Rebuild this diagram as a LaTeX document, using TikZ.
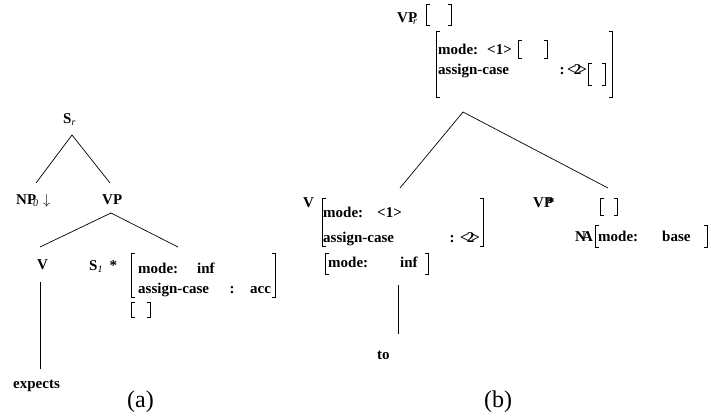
\documentclass[tikz,border=0pt]{standalone}
\usepackage{fontspec}
\setmainfont{Liberation Serif}
\newcommand{\lsub}[1]{\raisebox{-2pt}{\fontsize{10}{10}\selectfont\mdseries\itshape #1}}
% left x, right x, top y, bottom y
\newcommand{\avmbrk}[4]{%
  \draw[brack] (#1+3.5,#3) -- (#1,#3) -- (#1,#4) -- (#1+3.5,#4);
  \draw[brack] (#2-3.5,#3) -- (#2,#3) -- (#2,#4) -- (#2-3.5,#4);}
\begin{document}
\begin{tikzpicture}[x=1pt,y=-1pt]
\tikzstyle{every node}=[inner sep=0pt,anchor=base west,font=\fontsize{15}{15}\selectfont\bfseries]
\tikzstyle{branch}=[line width=0.7pt]
\tikzstyle{brack}=[line width=0.7pt]
\useasboundingbox (0,0) rectangle (711,417);
% (a)
\node (sr) at (63,123) {S\lsub{r}};
\node (np0) at (16,204) {NP\kern-3pt\lsub{0}\kern5pt$\downarrow$};
\node (vpa) at (102,204) {VP};
\node (va) at (37,269) {V};
\node (s1) at (89,270) {S\lsub{1}\kern7pt*};
\node (s1-mode) at (138,273) {mode:};
\node (s1-inf) at (197,273) {inf};
\node (s1-case) at (138,293) {assign-case};
\node[anchor=base] (s1-colon) at (232,293) {:};
\node (s1-acc) at (250,293) {acc};
\avmbrk{131}{275}{253}{297}
\avmbrk{131}{150}{302}{317}
\node (expects) at (13,388) {expects};
\node[font=\fontsize{24}{24}\selectfont] (lab-a) at (127,407) {(a)};
\coordinate (sr-b) at (72,135);
\coordinate (np0-t) at (36,183);
\coordinate (vpa-t) at (110,183);
\coordinate (vpa-b) at (111,213);
\coordinate (va-t) at (40,247);
\coordinate (s1-t) at (178,247);
\coordinate (va-b) at (40,282);
\coordinate (expects-t) at (40,369);
\draw[branch] (np0-t) -- (sr-b) -- (vpa-t);
\draw[branch] (va-t) -- (vpa-b) -- (s1-t);
\draw[branch] (va-b) -- (expects-t);
% (b)
\node (vpr) at (397,23) {VP\kern-4pt\lsub{r}};
\avmbrk{426}{451}{4}{25}
\avmbrk{436}{612}{31}{97}
\node (vpr-mode) at (438,55) {mode:};
\node (vpr-1) at (487,55) {<1>};
\avmbrk{518}{547}{40}{58}
\node (vpr-case) at (438,75) {assign-case};
\node[anchor=base] (vpr-colon) at (562,75) {:};
\node (vpr-2) at (567,75) {<\kern-2pt2\kern-3pt>};
\avmbrk{588}{605}{63}{85}
\node (vb) at (303,207) {V};
\avmbrk{322}{483}{198}{246}
\node (vb-mode) at (323,217) {mode:};
\node (vb-1) at (377,217) {<1>};
\node (vb-case) at (323,242) {assign-case};
\node[anchor=base] (vb-colon) at (452,242) {:};
\node (vb-2) at (460,242) {<\kern-2pt2\kern-3pt>};
\avmbrk{325}{428}{253}{274}
\node (vb-mode2) at (328,267) {mode:};
\node (vb-inf) at (400,267) {inf};
\node (to) at (377,359) {to};
\node (vpstar) at (533,207) {VP\kern-6pt*};
\avmbrk{600}{617}{198}{215}
\node (na) at (575,241) {N\kern-4pt A};
\avmbrk{595}{707}{225}{247}
\node (na-mode) at (598,241) {mode:};
\node (na-base) at (662,241) {base};
\node[font=\fontsize{24}{24}\selectfont] (lab-b) at (484,407) {(b)};
\coordinate (vpr-b) at (463,112);
\coordinate (vb-t) at (400,188);
\coordinate (vpstar-t) at (608,188);
\coordinate (vb-b) at (398,285);
\coordinate (to-t) at (398,334);
\draw[branch] (vb-t) -- (vpr-b) -- (vpstar-t);
\draw[branch] (vb-b) -- (to-t);
\end{tikzpicture}
\end{document}
